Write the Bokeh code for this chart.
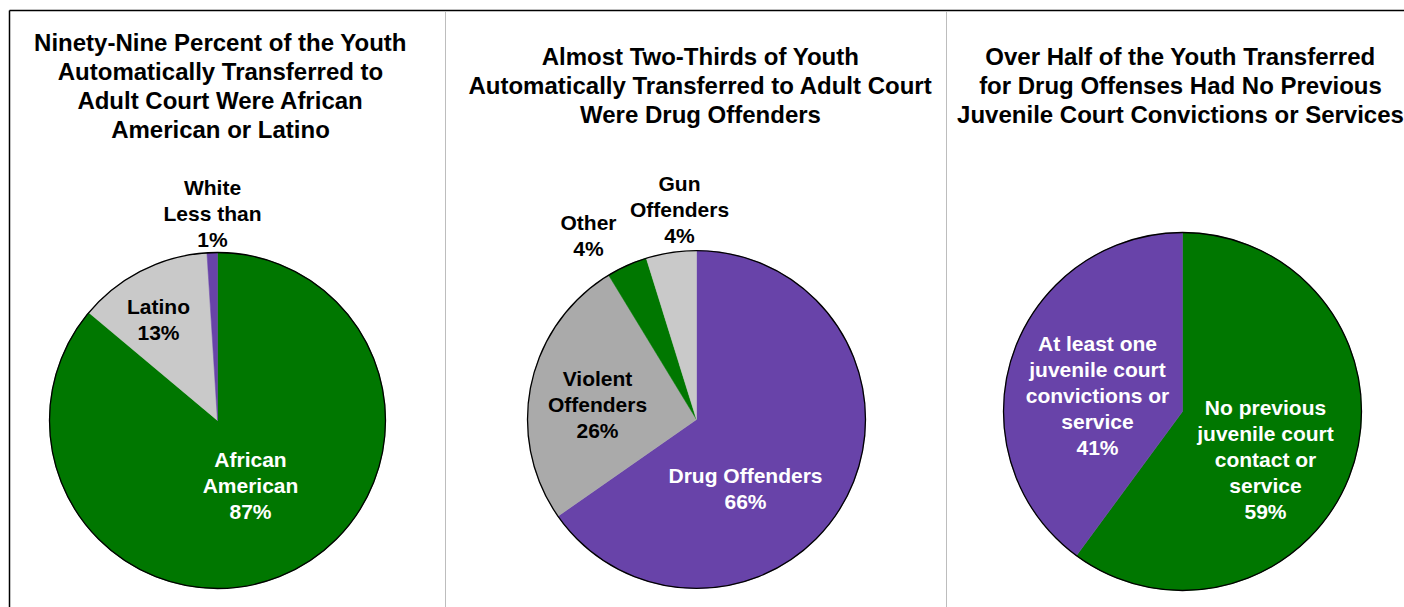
import numpy as np
from bokeh.plotting import figure
from bokeh.models import Range1d
from bokeh.core.properties import value
from bokeh.embed import file_html
from bokeh.resources import INLINE

# ---------------- data ----------------
race_labels = ["African\nAmerican\n87%", "Latino\n13%", "White\nLess than\n1%"]
race_values = [86.1, 12.9, 1.0]

offense_labels = ["Drug Offenders\n66%", "Violent\nOffenders\n26%", "Other\n4%", "Gun\nOffenders\n4%"]
offense_values = [65.3, 26.0, 3.9, 4.8]

history_labels = ["No previous\njuvenile court\ncontact or\nservice\n59%",
                  "At least one\njuvenile court\nconvictions or\nservice\n41%"]
history_values = [60.1, 39.9]

titles = [
    "Ninety-Nine Percent of the Youth\nAutomatically Transferred to\nAdult Court Were African\nAmerican or Latino",
    "Almost Two-Thirds of Youth\nAutomatically Transferred to Adult Court\nWere Drug Offenders",
    "Over Half of the Youth Transferred\nfor Drug Offenses Had No Previous\nJuvenile Court Convictions or Services",
]

# ---------------- styles / layout (screen pixel coordinates) ----------------
GREEN = "#007700"
PURPLE = "#6843A9"
LGRAY = "#C9C9C9"
DGRAY = "#AAAAAA"

race_colors = [GREEN, LGRAY, PURPLE]
race_text_colors = ["white", "black", "black"]
race_label_pos = [(250, 485), (158, 319), (212, 213)]

offense_colors = [PURPLE, DGRAY, GREEN, LGRAY]
offense_text_colors = ["white", "black", "black", "black"]
offense_label_pos = [(745, 488), (597, 404), (588, 235), (679, 209)]

history_colors = [GREEN, PURPLE]
history_text_colors = ["white", "white"]
history_label_pos = [(1265, 459), (1097, 395)]

pies = [
    dict(cx=217, cy=420, r=168, values=race_values, labels=race_labels,
         colors=race_colors, tcolors=race_text_colors, lpos=race_label_pos),
    dict(cx=696, cy=419, r=169, values=offense_values, labels=offense_labels,
         colors=offense_colors, tcolors=offense_text_colors, lpos=offense_label_pos),
    dict(cx=1182, cy=411, r=179, values=history_values, labels=history_labels,
         colors=history_colors, tcolors=history_text_colors, lpos=history_label_pos),
]
title_pos = [(220, 42), (700, 56), (1180, 56)]
TITLE_SPACING = 29
LABEL_SPACING = 26
FONT = value("Liberation Sans")

W, H = 1404, 607
OX, OY = 0, 0


def sx(x):
    return x - OX


def sy(y):
    return (OY + H) - y


p = figure(width=W, height=H, output_backend="svg", toolbar_location=None,
           x_range=Range1d(0, W), y_range=Range1d(0, H), min_border=0,
           tools="")
p.axis.visible = False
p.grid.visible = False
p.outline_line_color = None
p.background_fill_color = "white"

# frame lines
p.line([sx(9), sx(1404)], [sy(10), sy(10)], line_color="black", line_width=1.5)
p.line([sx(9), sx(9)], [sy(10), sy(607)], line_color="black", line_width=1.5)
for xd in (445, 946):
    p.line([sx(xd), sx(xd)], [sy(11), sy(607)], line_color="#BDBDBD", line_width=1)

# pies
for pie in pies:
    vals = np.array(pie["values"], dtype=float)
    frac = vals / vals.sum()
    cum = np.concatenate([[0], np.cumsum(frac)])
    starts = np.pi / 2 - 2 * np.pi * cum[:-1]
    ends = np.pi / 2 - 2 * np.pi * cum[1:]
    p.wedge(x=sx(pie["cx"]), y=sy(pie["cy"]), radius=pie["r"],
            start_angle=starts, end_angle=ends, direction="clock",
            fill_color=pie["colors"], line_color=pie["colors"], line_width=0.5)
    p.circle(x=sx(pie["cx"]), y=sy(pie["cy"]), radius=pie["r"],
             fill_color=None, line_color="black", line_width=1.3)
    for lab, (lx, ly), tc in zip(pie["labels"], pie["lpos"], pie["tcolors"]):
        lines = lab.split("\n")
        n = len(lines)
        ys = [ly + (i - (n - 1) / 2) * LABEL_SPACING for i in range(n)]
        p.text(x=[sx(lx)] * n, y=[sy(v) for v in ys], text=lines,
               text_font=FONT, text_font_style="bold", text_font_size="21px",
               text_color=tc, text_align="center", text_baseline="middle")

# titles
for t, (tx, ty) in zip(titles, title_pos):
    lines = t.split("\n")
    n = len(lines)
    p.text(x=[sx(tx)] * n, y=[sy(ty + i * TITLE_SPACING) for i in range(n)], text=lines,
           text_font=FONT, text_font_style="bold", text_font_size="24px",
           text_color="black", text_align="center", text_baseline="middle")

open("out.html", "w").write(file_html(p, INLINE))
